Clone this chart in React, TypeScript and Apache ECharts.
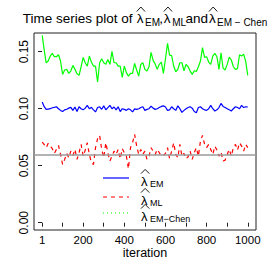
import React, { useEffect, useRef } from "react";
import * as echarts from "echarts";

const iterations: number[] = Array.from({ length: 101 }, (_, i) => (i === 0 ? 1 : i * 10));

const lambdaEM: number[] = [
  0.1058, 0.1020, 0.0994, 0.0997, 0.1000, 0.1008, 0.1012, 0.1017, 0.1000, 0.0985,
  0.0975, 0.0990, 0.0995, 0.1005, 0.1012, 0.0985, 0.1015, 0.0975, 0.1017, 0.1000,
  0.0990, 0.1005, 0.1029, 0.1000, 0.1012, 0.0990, 0.0972, 0.1010, 0.1017, 0.0995,
  0.1025, 0.0990, 0.1010, 0.1029, 0.1000, 0.1015, 0.0990, 0.1017, 0.0975, 0.1000,
  0.0994, 0.0985, 0.1000, 0.0990, 0.0972, 0.0998, 0.0994, 0.1000, 0.1010, 0.1017,
  0.0985, 0.0994, 0.1000, 0.1022, 0.1005, 0.0994, 0.1000, 0.1010, 0.1020, 0.1025,
  0.1015, 0.0985, 0.0990, 0.1017, 0.1000, 0.0985, 0.1025, 0.1000, 0.0968, 0.0985,
  0.1000, 0.1010, 0.1017, 0.1005, 0.0975, 0.0965, 0.1010, 0.1017, 0.1000, 0.0990,
  0.0985, 0.1000, 0.1029, 0.1000, 0.0980, 0.0990, 0.1010, 0.1046, 0.1020, 0.1010,
  0.1000, 0.0990, 0.0980, 0.1000, 0.1017, 0.1010, 0.1000, 0.1029, 0.1010, 0.1017,
  0.1015,
];

const lambdaML: number[] = [
  0.0707, 0.0687, 0.0658, 0.0696, 0.0672, 0.0649, 0.0608, 0.0643, 0.0678, 0.0599,
  0.0511, 0.0555, 0.0608, 0.0570, 0.0628, 0.0590, 0.0643, 0.0555, 0.0614, 0.0687,
  0.0584, 0.0637, 0.0701, 0.0599, 0.0526, 0.0511, 0.0658, 0.0737, 0.0766, 0.0643,
  0.0570, 0.0701, 0.0614, 0.0541, 0.0584, 0.0628, 0.0599, 0.0643, 0.0561, 0.0649,
  0.0614, 0.0584, 0.0473, 0.0658, 0.0701, 0.0775, 0.0672, 0.0599, 0.0643, 0.0599,
  0.0628, 0.0555, 0.0584, 0.0658, 0.0628, 0.0599, 0.0643, 0.0614, 0.0584, 0.0590,
  0.0608, 0.0658, 0.0561, 0.0628, 0.0701, 0.0599, 0.0570, 0.0687, 0.0584, 0.0608,
  0.0561, 0.0578, 0.0628, 0.0555, 0.0614, 0.0658, 0.0584, 0.0716, 0.0766, 0.0687,
  0.0658, 0.0687, 0.0643, 0.0599, 0.0672, 0.0637, 0.0584, 0.0620, 0.0541, 0.0549,
  0.0599, 0.0643, 0.0584, 0.0658, 0.0687, 0.0637, 0.0701, 0.0672, 0.0628, 0.0687,
  0.0658,
];

const lambdaEMChen: number[] = [
  0.1643, 0.1523, 0.1403, 0.1418, 0.1462, 0.1485, 0.1456, 0.1456, 0.1473, 0.1418,
  0.1301, 0.1339, 0.1345, 0.1310, 0.1330, 0.1380, 0.1345, 0.1307, 0.1292, 0.1368,
  0.1450, 0.1403, 0.1374, 0.1462, 0.1409, 0.1374, 0.1374, 0.1234, 0.1403, 0.1438,
  0.1403, 0.1389, 0.1432, 0.1389, 0.1503, 0.1403, 0.1403, 0.1374, 0.1374, 0.1275,
  0.1374, 0.1316, 0.1286, 0.1310, 0.1310, 0.1397, 0.1339, 0.1286, 0.1389, 0.1403,
  0.1345, 0.1330, 0.1368, 0.1494, 0.1424, 0.1392, 0.1345, 0.1389, 0.1409, 0.1310,
  0.1438, 0.1573, 0.1470, 0.1465, 0.1374, 0.1324, 0.1345, 0.1403, 0.1403, 0.1333,
  0.1389, 0.1368, 0.1330, 0.1301, 0.1333, 0.1327, 0.1368, 0.1418, 0.1535, 0.1450,
  0.1456, 0.1409, 0.1389, 0.1462, 0.1485, 0.1456, 0.1345, 0.1491, 0.1356, 0.1339,
  0.1389, 0.1453, 0.1427, 0.1368, 0.1345, 0.1351, 0.1473, 0.1462, 0.1479, 0.1415,
  0.1292,
];

const trueLambda = 0.06;
const xTicks: number[] = [1, 100, 200, 300, 400, 500, 600, 700, 800, 900, 1000];
const xLabels: number[] = [1, 200, 400, 600, 800, 1000];
const yTicks: number[] = [0, 0.05, 0.1, 0.15];
const legendSubs: string[] = ["EM", "ML", "EM\u2212Chen"];

const FONT = "Liberation Sans, Arial, sans-serif";

function txt(x: number, y: number, text: string, fontSize: number) {
  return {
    type: "text",
    x,
    y,
    silent: true,
    style: { text, fontSize, fontFamily: FONT, fill: "#000", align: "left", verticalAlign: "middle" },
  };
}

function hat(x: number, yBase: number, w: number, h: number) {
  return {
    type: "polyline",
    silent: true,
    shape: { points: [[x, yBase], [x + w / 2, yBase - h], [x + w, yBase]] },
    style: { stroke: "#000", lineWidth: 0.9, fill: "none" },
  };
}

export default function App() {
  const ref = useRef<HTMLDivElement>(null);
  useEffect(() => {
    const chart = echarts.init(ref.current!, null, { renderer: "svg" });
    const pair = (vals: number[]) => iterations.map((x, i) => [x, vals[i]]);
    const legendY = [178, 197, 213];
    const legendColors = ["#0000ff", "#ff0000", "#00ff00"];
    const legendDash: any[] = [null, [4, 4], [1, 3]];

    const tMain = 13.5;
    const tSub = 10;
    const yMain = 18;
    const ySub = 22.2;
    const graphics: any[] = [
      txt(22.7, yMain, "Time series plot of", tMain),
      txt(136.7, yMain, "\u03bb", tMain),
      hat(136.7, 11.5, 8.3, 4.5),
      txt(145, ySub, "EM", tSub),
      txt(159.2, yMain, ",", tMain),
      txt(163.8, yMain, "\u03bb", tMain),
      hat(163.8, 11.5, 8.3, 4.5),
      txt(172.2, ySub, "ML", tSub),
      txt(185.6, yMain, "and", tMain),
      txt(209, yMain, "\u03bb", tMain),
      hat(209, 11.5, 8.3, 4.5),
      txt(217, ySub, "EM \u2212 Chen", tSub),
    ];
    legendY.forEach((y, i) => {
      graphics.push({
        type: "line",
        silent: true,
        shape: { x1: 103, y1: y, x2: 129, y2: y },
        style: { stroke: legendColors[i], lineWidth: 1.2, lineDash: legendDash[i] },
      });
      graphics.push(txt(141, y + 3.2, "\u03bb", 13));
      graphics.push(hat(141, y - 4.4, 8.3, 4.2));
      graphics.push(txt(150, y + 6.2, legendSubs[i], 9));
    });

    chart.setOption({
      animation: false,
      backgroundColor: "#fff",
      grid: {
        left: 34,
        right: 17,
        top: 33,
        bottom: 43,
        show: true,
        borderColor: "#222",
        borderWidth: 1,
        backgroundColor: "transparent",
      },
      xAxis: {
        type: "value",
        min: -39,
        max: 1040,
        axisLine: { show: false },
        splitLine: { show: false },
        axisTick: { show: true, customValues: xTicks, length: 4, lineStyle: { color: "#222" } },
        axisLabel: {
          customValues: xLabels,
          fontSize: 11.5,
          lineHeight: 10,
          color: "#000",
          margin: 5,
          fontFamily: FONT,
          formatter: (v: number) => String(v),
        },
        name: "iteration",
        nameLocation: "middle",
        nameGap: 18,
        nameMoveOverlap: false,
        nameTextStyle: { fontSize: 12.5, lineHeight: 10, color: "#000", fontFamily: FONT },
      },
      yAxis: {
        type: "value",
        min: -0.0064,
        max: 0.1664,
        axisLine: { show: false },
        splitLine: { show: false },
        axisTick: { show: true, customValues: yTicks, length: 4, lineStyle: { color: "#222" } },
        axisLabel: {
          customValues: yTicks,
          rotate: 90,
          fontSize: 12,
          color: "#000",
          margin: 4,
          fontFamily: FONT,
          formatter: (v: number) => v.toFixed(2),
        },
      },
      series: [
        {
          type: "line",
          data: pair(lambdaEMChen),
          symbol: "none",
          lineStyle: { color: "#00ff00", width: 1.2 },
        },
        {
          type: "line",
          data: pair(lambdaEM),
          symbol: "none",
          lineStyle: { color: "#0000ff", width: 1.2 },
        },
        {
          type: "line",
          data: pair(lambdaML),
          symbol: "none",
          lineStyle: { color: "#ff0000", width: 1.2, type: [4, 4] },
          markLine: {
            silent: true,
            symbol: "none",
            label: { show: false },
            lineStyle: { color: "#9a9a9a", width: 1.5, type: "solid" },
            data: [{ yAxis: trueLambda }],
          },
        },
      ],
      graphic: graphics,
    });
    return () => chart.dispose();
  }, []);
  return (
    <div
      ref={ref}
      style={{ position: "fixed", left: 0, top: 0, width: 273, height: 273, background: "#fff" }}
    />
  );
}
